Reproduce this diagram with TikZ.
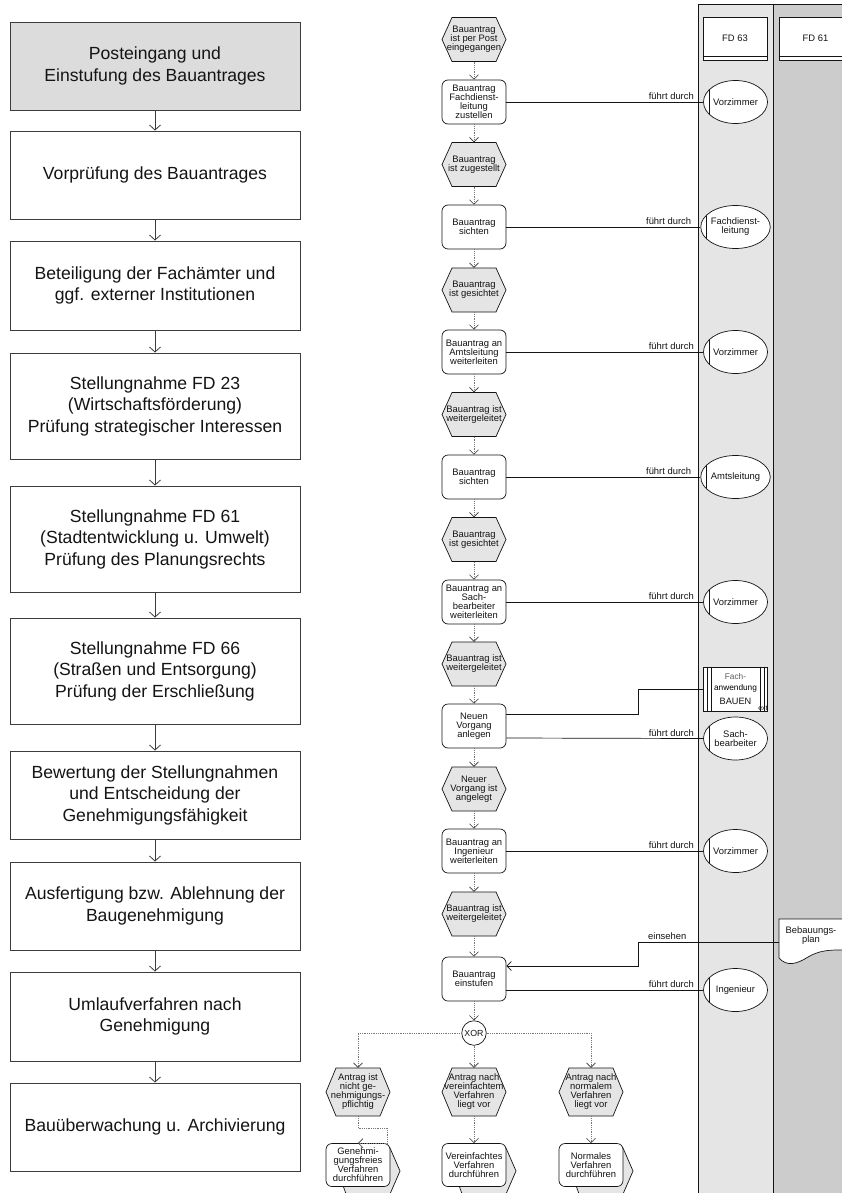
\documentclass[tikz,border=0pt]{standalone}
\usepackage{fontspec}
\setmainfont{Liberation Sans}
\usetikzlibrary{shapes.geometric,arrows.meta,calc}
\definecolor{evgray}{RGB}{229,229,229}
\definecolor{hdgray}{RGB}{220,220,220}
\definecolor{laneA}{RGB}{229,229,229}
\definecolor{laneB}{RGB}{204,204,204}
\definecolor{ink}{RGB}{20,20,20}
\definecolor{boxline}{RGB}{60,60,60}
\definecolor{flowgray}{RGB}{120,120,120}
\definecolor{txtgray}{RGB}{90,90,90}
\newcommand\sfnt{\fontsize{9.4}{9}\selectfont}
\newcommand\bigfnt{\fontsize{17.6}{21.5}\selectfont}
% event hexagon: name, x, y, height, text
\newcommand\evt[5]{%
  \draw[evshape] (#2-32,#3) -- (#2-22,#3-#4/2) -- (#2+22,#3-#4/2) -- (#2+32,#3)
    -- (#2+22,#3+#4/2) -- (#2-22,#3+#4/2) -- cycle;
  \node[evnode, minimum height=#4] (#1) at (#2,#3) {#5};}
% process interface back shape: x, y (of front box centre)
\newcommand\pihex[2]{%
  \draw[evshape] (#1-22,#2) -- (#1-12,#2-17) -- (#1+32,#2-17) -- (#1+42,#2+6)
    -- (#1+32,#2+29) -- (#1-12,#2+29) -- cycle;}
\begin{document}
\begin{tikzpicture}[x=1pt,y=-1pt,
  lbox/.style={draw=boxline, line width=0.9pt, minimum width=290pt, text=ink,
    font=\bigfnt, align=center, inner sep=2pt},
  larr/.style={draw=boxline, line width=0.8pt, -{Straight Barb[length=5pt,width=11pt]}},
  fn/.style={draw=ink, line width=0.7pt, fill=white, rounded corners=6pt,
    minimum width=64pt, minimum height=44pt, inner sep=0.5pt, align=center,
    font=\sfnt, text=ink},
  evnode/.style={minimum width=64pt, inner sep=0pt, align=center, font=\sfnt, text=ink},
  evshape/.style={draw=ink, line width=0.7pt, fill=evgray},
  org/.style={ellipse, draw=ink, line width=0.7pt, fill=white, minimum width=64pt,
    minimum height=43pt, inner sep=0pt, align=center, font=\sfnt, text=ink,
    path picture={\draw[ink, line width=0.7pt]
      ([xshift=6pt]path picture bounding box.north west) --
      ([xshift=6pt]path picture bounding box.south west);}},
  flow/.style={draw=flowgray, line width=0.6pt, dash pattern=on 0.7pt off 1.1pt,
    -{Straight Barb[length=4.5pt,width=9pt,color=ink!85]}},
  res/.style={draw=ink, line width=0.7pt},
  lab/.style={font=\sfnt, text=ink, inner sep=1pt, align=center},
  hdr/.style={draw=ink, line width=0.7pt, fill=white, minimum height=43pt,
    font=\sfnt, text=ink, inner sep=0pt},
]
\useasboundingbox (0,0) rectangle (842,1193);
\clip (0,0) rectangle (842,1193);
\fill[white] (0,0) rectangle (842,1193);

% ---------- left column ----------
\node[lbox, fill=hdgray, minimum height=88pt] (L1) at (155,66) {Posteingang und\\Einstufung des Bauantrages};
\node[lbox, minimum height=88pt] (L2) at (155,175) {Vorprüfung des Bauantrages};
\node[lbox, minimum height=89pt] (L3) at (155,285.5) {Beteiligung der Fachämter und\\ggf. externer Institutionen};
\node[lbox, minimum height=106pt] (L4) at (155,406) {Stellungnahme FD 23\\(Wirtschaftsförderung)\\Prüfung strategischer Interessen};
\node[lbox, minimum height=106pt] (L5) at (155,539) {Stellungnahme FD 61\\(Stadtentwicklung u. Umwelt)\\Prüfung des Planungsrechts};
\node[lbox, minimum height=106pt] (L6) at (155,671) {Stellungnahme FD 66\\(Straßen und Entsorgung)\\Prüfung der Erschließung};
\node[lbox, minimum height=88pt] (L7) at (155,795) {Bewertung der Stellungnahmen\\und Entscheidung der\\Genehmigungsfähigkeit};
\node[lbox, minimum height=88pt] (L8) at (155,906) {Ausfertigung bzw. Ablehnung der\\Baugenehmigung};
\node[lbox, minimum height=89pt] (L9) at (155,1016.5) {Umlaufverfahren nach\\Genehmigung};
\node[lbox, minimum height=88pt] (L10) at (155,1127) {Bauüberwachung u. Archivierung};
\foreach \a/\b in {L1/L2,L2/L3,L3/L4,L4/L5,L5/L6,L6/L7,L7/L8,L8/L9,L9/L10}
  \draw[larr] (\a.south) -- (\b.north);

% ---------- lanes ----------
\fill[laneA] (698.5,4) rectangle (773,1200);
\fill[laneB] (773,4) rectangle (870,1200);
\draw[ink, line width=0.8pt] (698.5,1200) -- (698.5,4) -- (870,4);
\draw[ink, line width=0.8pt] (773,4) -- (773,1200);
\node[hdr, minimum width=64pt] (h63) at (735,38.5) {FD 63};
\draw[ink, line width=0.7pt] (h63.west |- 0,56) -- (h63.east |- 0,56);
\node[hdr, minimum width=73pt] (h61) at (815.5,38.5) {FD 61};
\draw[ink, line width=0.7pt] (h61.west |- 0,56) -- (h61.east |- 0,56);

% ---------- events and functions ----------
\evt{E1}{474}{39.5}{44}{Bauantrag\\ist per Post\\eingegangen}
\node[fn] (F1) at (474,102) {Bauantrag\\Fachdienst-\\leitung\\zustellen};
\evt{E2}{474}{164.5}{44}{Bauantrag\\ist zugestellt}
\node[fn] (F2) at (474,227) {Bauantrag\\sichten};
\evt{E3}{474}{290}{44}{Bauantrag\\ist gesichtet}
\node[fn] (F3) at (474,352) {Bauantrag an\\Amtsleitung\\weiterleiten};
\evt{E4}{474}{414.5}{44}{Bauantrag ist\\weitergeleitet}
\node[fn] (F4) at (474,477) {Bauantrag\\sichten};
\evt{E5}{474}{539.5}{44}{Bauantrag\\ist gesichtet}
\node[fn] (F5) at (474,602) {Bauantrag an\\Sach-\\bearbeiter\\weiterleiten};
\evt{E6}{474}{664}{44}{Bauantrag ist\\weitergeleitet}
\node[fn] (F6) at (474,726) {Neuen\\Vorgang\\anlegen};
\evt{E7}{474}{789}{44}{Neuer\\Vorgang ist\\angelegt}
\node[fn] (F7) at (474,851) {Bauantrag an\\Ingenieur\\weiterleiten};
\evt{E8}{474}{914}{44}{Bauantrag ist\\weitergeleitet}
\node[fn] (F8) at (474,979) {Bauantrag\\einstufen};

\foreach \a/\b in {E1/F1,F1/E2,E2/F2,F2/E3,E3/F3,F3/E4,E4/F4,F4/E5,E5/F5,F5/E6,E6/F6,F6/E7,E7/F7,F7/E8,E8/F8}
  \draw[flow] (\a.south) -- (\b.north);

% ---------- XOR and branches ----------
\node[circle, draw=ink, line width=0.7pt, fill=white, minimum size=24.5pt, inner sep=0pt,
  font=\fontsize{8.8}{9}\selectfont, text=ink] (xor) at (474,1033) {XOR};
\draw[flow] (F8.south) -- (xor.north);
\evt{B1}{358}{1092}{48}{Antrag ist\\nicht ge-\\nehmigungs-\\pflichtig}
\evt{B2}{474}{1092}{48}{Antrag nach\\vereinfachtem\\Verfahren\\liegt vor}
\evt{B3}{591}{1092}{48}{Antrag nach\\normalem\\Verfahren\\liegt vor}
\draw[flow] (xor.west) -| (B1.north);
\draw[flow] (xor.south) -- (B2.north);
\draw[flow] (xor.east) -| (B3.north);

\pihex{358}{1165}
\pihex{474}{1165}
\pihex{591}{1165}
\node[fn, minimum height=43pt] (P1) at (358,1165) {Genehmi-\\gungsfreies\\Verfahren\\durchführen};
\node[fn, minimum height=43pt] (P2) at (474,1165) {Vereinfachtes\\Verfahren\\durchführen};
\node[fn, minimum height=43pt] (P3) at (591,1165) {Normales\\Verfahren\\durchführen};
\draw[flow] (B1.south) -- ++(0,12) -| ([xshift=-3pt]P1.north east) -- (P1.north);
\draw[flow] (B2.south) -- (P2.north);
\draw[flow] (B3.south) -- (P3.north);

% ---------- organisational units ----------
\node[org] (R1) at (735.5,102) {Vorzimmer};
\node[org] (R2) at (735.5,227) {Fachdienst-\\leitung};
\node[org] (R3) at (735.5,352) {Vorzimmer};
\node[org] (R4) at (735.5,477) {Amtsleitung};
\node[org] (R5) at (735.5,602) {Vorzimmer};
\node[org] (R6) at (735.5,738.5) {Sach-\\bearbeiter};
\node[org] (R7) at (735.5,851) {Vorzimmer};
\node[org] (R8) at (735.5,990) {Ingenieur};

\foreach \f/\r in {F1/R1,F2/R2,F3/R3,F4/R4,F5/R5,F7/R7}
  \draw[res] (\f.east) -- (\r.west)
    node[lab, pos=1, anchor=south east, xshift=-8pt, yshift=1pt] {führt durch};
\draw[res] ([yshift=-12pt]F6.east) -- (R6.west)
  node[lab, pos=1, anchor=south east, xshift=-8pt, yshift=1pt] {führt durch};
\draw[res] ([yshift=-11pt]F8.east) -- (R8.west)
  node[lab, pos=1, anchor=south east, xshift=-8pt, yshift=1pt] {führt durch};

% ---------- application system ----------
\node[draw=ink, line width=0.7pt, fill=white, minimum width=64.5pt, minimum height=44pt,
  inner sep=0pt, align=center, font=\fontsize{8.3}{11.5}\selectfont] (app) at (735.5,689)
  {\color{txtgray}Fach-\\anwendung\\[2.5pt]\color{ink}\fontsize{9.2}{11.5}\selectfont BAUEN};
\foreach \s in {4,8}{
  \draw[ink, line width=0.6pt] ([xshift=\s pt]app.north west) -- ([xshift=\s pt]app.south west);
  \draw[ink, line width=0.6pt] ([xshift=-\s pt]app.north east) -- ([xshift=-\s pt]app.south east);}
\node[font=\fontsize{7}{7}\selectfont, text=ink, anchor=south east, inner sep=0.3pt] (ext) at (app.south east) {ext};
\coordinate (k2) at (638,689);
\draw[res] ([yshift=12pt]F6.east) -| (k2) -- (app.west);

% ---------- document ----------
\draw[ink, line width=0.7pt, fill=white] (779,919) -- (870,919) -- (870,952)
  .. controls (832,948) and (820,950) .. (808,957)
  .. controls (797,964) and (787,967) .. (779,958) -- cycle;
\node[lab] (plan) at (811,936) {Bebauungs-\\plan};
\coordinate (planin) at (779,942);
\coordinate (k1) at (638,942);
\draw[res, -{Straight Barb[length=4.5pt,width=9pt]}] (planin) -- (k1) |- ([yshift=13pt]F8.east);
\node[lab, anchor=south west] (einsehen) at ([xshift=9pt,yshift=1pt]k1) {einsehen};
\end{tikzpicture}
\end{document}
